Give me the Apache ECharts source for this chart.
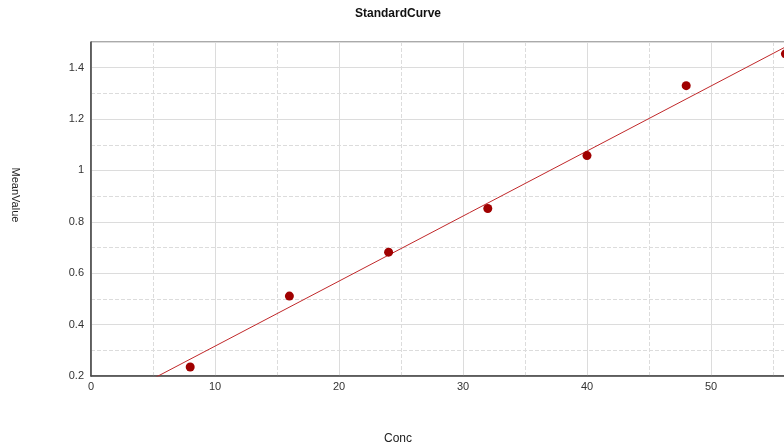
<!DOCTYPE html>
<html><head><meta charset="utf-8">
<script src="https://cdn.jsdelivr.net/npm/echarts@6/dist/echarts.min.js"></script>
<style>html,body{margin:0;padding:0;background:#fff}#c{width:784px;height:447px}</style>
</head><body><div id="c"></div>
<script>
var conc = [8, 16, 24, 32, 40, 48, 56];
var meanValue = [0.235, 0.511, 0.682, 0.852, 1.058, 1.330, 1.454];
var fitX = [0, 60];
var fitY = [0.063, 1.582];
var titleText = 'StandardCurve';
var xName = 'Conc';
var yName = 'MeanValue';

var chart = echarts.init(document.getElementById('c'));
var font = 'Liberation Sans, Arial, sans-serif';
chart.setOption({
  animation: false,
  grid: {left: 91, top: 42, width: 744, height: 334, containLabel: false, outerBoundsMode: 'none',
         show: true, borderColor: '#555', borderWidth: 1, backgroundColor: '#fff'},
  graphic: [
    {type: 'text', x: 398, y: 8, style: {text: titleText, font: 'bold 12px ' + font, fill: '#111', textAlign: 'center'}},
    {type: 'text', x: 398, y: 433, style: {text: xName, font: '12px ' + font, fill: '#222', textAlign: 'center'}},
    {type: 'text', x: 15, y: 195, rotation: -Math.PI / 2, style: {text: yName, font: '11px ' + font, fill: '#222', textAlign: 'center', textVerticalAlign: 'middle'}}
  ],
  xAxis: {
    type: 'value', min: 0, max: 60, interval: 10,
    axisLine: {lineStyle: {color: '#444', width: 1.5}},
    axisTick: {show: false},
    axisLabel: {color: '#333', fontSize: 11, fontFamily: font, margin: 5},
    splitLine: {lineStyle: {color: '#dcdcdc'}},
    minorTick: {show: false, splitNumber: 2},
    minorSplitLine: {show: true, lineStyle: {color: '#dcdcdc', type: 'dashed'}}
  },
  yAxis: {
    type: 'value', min: 0.2, max: 1.5, interval: 0.2,
    axisLine: {show: true, lineStyle: {color: '#444', width: 1.5}},
    axisTick: {show: false},
    axisLabel: {color: '#333', fontSize: 11, fontFamily: font, margin: 7, showMaxLabel: false},
    splitLine: {lineStyle: {color: '#dcdcdc'}},
    minorTick: {show: false, splitNumber: 2},
    minorSplitLine: {show: true, lineStyle: {color: '#dcdcdc', type: 'dashed'}}
  },
  series: [
    {type: 'line', data: fitX.map(function (x, i) { return [x, fitY[i]]; }), showSymbol: false, symbol: 'none',
     lineStyle: {color: '#c0282a', width: 1}, clip: true, z: 2},
    {type: 'scatter', data: conc.map(function (x, i) { return [x, meanValue[i]]; }), symbolSize: 9,
     itemStyle: {color: '#a00000', opacity: 1}, z: 3}
  ]
});
</script></body></html>
